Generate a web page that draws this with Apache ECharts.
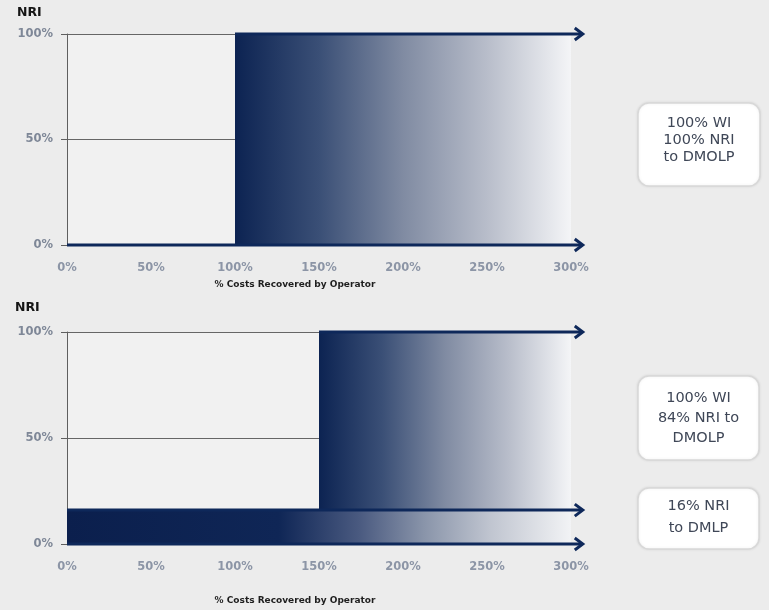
<!DOCTYPE html>
<html><head><meta charset="utf-8">
<script src="https://cdn.jsdelivr.net/npm/echarts@6/dist/echarts.min.js"></script>
<style>html,body{margin:0;padding:0;background:#ececec;}#c{width:769px;height:610px;}</style>
</head><body><div id="c"></div>
<script>
// ---- data ----
const xTicks = [0, 50, 100, 150, 200, 250, 300];
const yTicks = [0, 50, 100];
// [xStart, xEnd, yStart, yEnd] in % costs recovered / % NRI
const topBlocks = [[100, 300, 0, 100]];
const bottomBlocks = [[150, 300, 16, 100]];
const bottomBars = [[0, 300, 0, 16]];
// [xStart, xEnd, yLevel]
const topArrows = [[100, 307, 100], [0, 307, 0]];
const bottomArrows = [[150, 307, 100], [0, 307, 16], [0, 307, 0]];
const boxTexts = [
  ['100% WI', '100% NRI', 'to DMOLP'],
  ['100% WI', '84% NRI to', 'DMOLP'],
  ['16% NRI', 'to DMLP']
];
const xAxisTitle = '% Costs Recovered by Operator';
const yAxisTitle = 'NRI';

// ---- layout / style ----
const NAVY = '#0e285a';
const LABEL_FONT = '"DejaVu Sans", sans-serif';
const BOX_LAYOUT = [
  { x: 638, y: 103, w: 122, h: 83, lines: [123, 140, 157] },
  { x: 638, y: 376, w: 121, h: 84, lines: [398, 418, 438] },
  { x: 638, y: 488, w: 121, h: 61, lines: [506, 528] }
];

function rectRenderer(stops) {
  return function (params, api) {
    const p0 = api.coord([api.value(0), api.value(3)]);
    const p1 = api.coord([api.value(1), api.value(2)]);
    return {
      type: 'rect',
      shape: { x: p0[0], y: p0[1], width: p1[0] - p0[0], height: p1[1] - p0[1] },
      style: { fill: new echarts.graphic.LinearGradient(0, 0, 1, 0, stops) }
    };
  };
}
function arrowRenderer(params, api) {
  const a = api.coord([api.value(0), api.value(2)]);
  const b = api.coord([api.value(1), api.value(2)]);
  return {
    type: 'group',
    children: [
      { type: 'line', shape: { x1: a[0], y1: a[1], x2: b[0] - 1, y2: b[1] },
        style: { stroke: NAVY, lineWidth: 3 } },
      { type: 'polyline', shape: { points: [[b[0] - 8, b[1] - 6], [b[0], b[1]], [b[0] - 8, b[1] + 6]] },
        style: { stroke: NAVY, lineWidth: 3, fill: null, lineJoin: 'miter' } }
    ]
  };
}
const blockStops = [
  { offset: 0, color: '#0c2352' }, { offset: 0.25, color: '#3a4f76' },
  { offset: 0.5, color: '#808ba2' }, { offset: 0.75, color: '#b8bdca' }, { offset: 1, color: '#f4f5f7' }
];
const barStops = [
  { offset: 0, color: '#0b1f4d' }, { offset: 0.42, color: '#0f2656' }, { offset: 0.58, color: '#4a5a80' },
  { offset: 0.71, color: '#8a95aa' }, { offset: 0.84, color: '#c0c5d0' }, { offset: 1, color: '#f2f3f5' }
];

function xAxisCfg(gridIndex, gap, margin) {
  return {
    gridIndex, type: 'value', min: 0, max: 300, interval: 50,
    axisLine: { show: false }, axisTick: { show: false }, splitLine: { show: false },
    axisLabel: { formatter: '{value}%', color: '#8c95a6', fontSize: 11.5, fontWeight: 'bold', fontFamily: LABEL_FONT, margin },
    name: xAxisTitle, nameLocation: 'middle', nameGap: gap,
    nameTextStyle: { color: '#1e1e1e', fontSize: 9, fontWeight: 'bold', fontFamily: LABEL_FONT, padding: [0, 48, 0, 0] }
  };
}
function yAxisCfg(gridIndex) {
  return {
    gridIndex, type: 'value', min: 0, max: 100, interval: 50,
    axisLine: { show: true, lineStyle: { color: '#5f5f5f', width: 1 } },
    axisTick: { show: true, length: 6, lineStyle: { color: '#5f5f5f' } },
    splitLine: { show: true, lineStyle: { color: '#666', width: 1 } },
    axisLabel: { formatter: '{value}%', color: '#7e8797', fontSize: 11.5, fontWeight: 'bold', fontFamily: LABEL_FONT, margin: 14 }
  };
}

const chart = echarts.init(document.getElementById('c'));
const graphics = [
  { type: 'text', left: 17, top: 6, style: { text: yAxisTitle, fill: '#151515', font: 'bold 12.5px ' + LABEL_FONT } },
  { type: 'text', left: 15, top: 301, style: { text: yAxisTitle, fill: '#151515', font: 'bold 12.5px ' + LABEL_FONT } }
];
BOX_LAYOUT.forEach((b, i) => {
  graphics.push({ type: 'rect', shape: { x: b.x, y: b.y, width: b.w, height: b.h, r: 11 },
    style: { fill: '#ffffff', stroke: '#d8d8d8', lineWidth: 1.5, shadowBlur: 3, shadowColor: 'rgba(0,0,0,0.08)' } });
  boxTexts[i].forEach((t, j) => {
    graphics.push({ type: 'text', x: b.x + b.w / 2, y: b.lines[j],
      style: { text: t, fill: '#3f4757', font: '14.5px ' + LABEL_FONT, textAlign: 'center', textVerticalAlign: 'middle' } });
  });
});

chart.setOption({
  backgroundColor: '#ececec',
  animation: false,
  grid: [
    { left: 67, top: 34, width: 504, height: 211, show: true, backgroundColor: '#f1f1f1', borderWidth: 0 },
    { left: 67, top: 332, width: 504, height: 212, show: true, backgroundColor: '#f1f1f1', borderWidth: 0 }
  ],
  xAxis: [xAxisCfg(0, 35, 17), xAxisCfg(1, 52, 17)],
  yAxis: [yAxisCfg(0), yAxisCfg(1)],
  graphic: graphics,
  series: [
    { type: 'custom', xAxisIndex: 0, yAxisIndex: 0, data: topBlocks, renderItem: rectRenderer(blockStops),
      encode: { x: [0, 1], y: [2, 3] }, z: 2 },
    { type: 'custom', xAxisIndex: 1, yAxisIndex: 1, data: bottomBlocks, renderItem: rectRenderer(blockStops),
      encode: { x: [0, 1], y: [2, 3] }, z: 2 },
    { type: 'custom', xAxisIndex: 1, yAxisIndex: 1, data: bottomBars, renderItem: rectRenderer(barStops),
      encode: { x: [0, 1], y: [2, 3] }, z: 2 },
    { type: 'custom', xAxisIndex: 0, yAxisIndex: 0, data: topArrows, renderItem: arrowRenderer,
      encode: { x: [0, 1], y: 2 }, clip: false, z: 5 },
    { type: 'custom', xAxisIndex: 1, yAxisIndex: 1, data: bottomArrows, renderItem: arrowRenderer,
      encode: { x: [0, 1], y: 2 }, clip: false, z: 5 }
  ]
});
</script>
</body></html>
